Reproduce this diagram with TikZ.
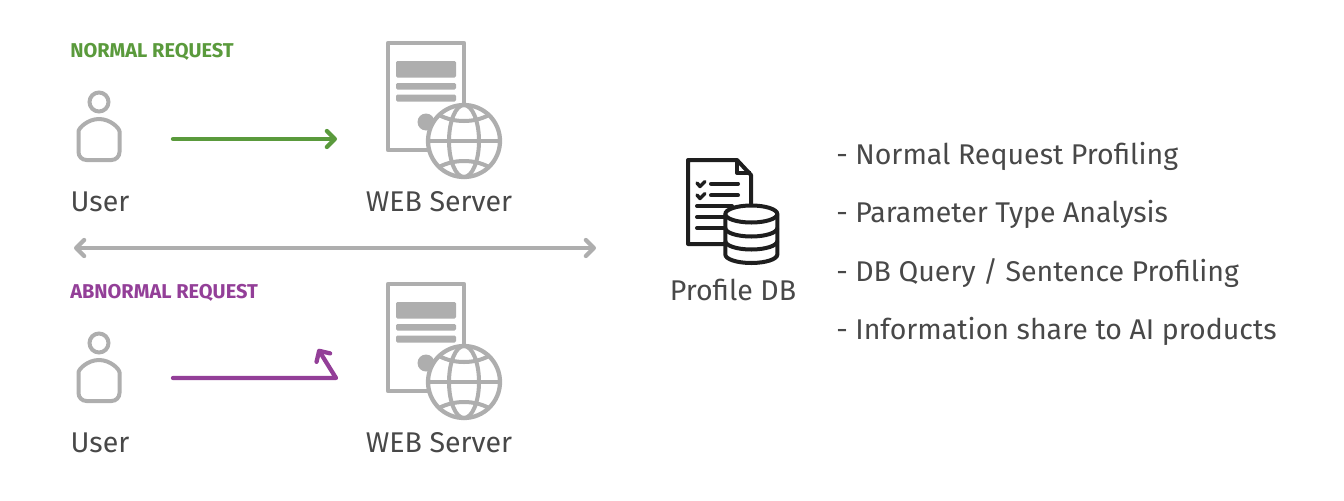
\documentclass[tikz,border=0pt]{standalone}
\usepackage{fontspec}
\setmainfont{Fira Sans}
\usetikzlibrary{positioning}
\usetikzlibrary{arrows.meta}
\pgfdeclarelayer{nodelayer}
\pgfdeclarelayer{edgelayer}
\pgfsetlayers{nodelayer,edgelayer,main}
\definecolor{icongray}{HTML}{AEAEAE}
\definecolor{textgray}{HTML}{484848}
\definecolor{okgreen}{HTML}{5A9A3C}
\definecolor{badpurple}{HTML}{933F98}
\definecolor{iconblack}{HTML}{1E1E1E}
\tikzset{
  label text/.style={text=textgray, inner sep=0pt, font=\fontsize{21.4}{26}\selectfont},
  head text/.style={inner sep=0pt, font=\fontsize{15}{18}\selectfont\bfseries},
  flow/.style={line width=3.2pt, line cap=round, line join=round, -{Straight Barb[length=6pt,width=12pt,line width=3.2pt,round]}},
  pics/usericon/.style={code={
    \draw [icongray, line width=3pt] (0,0) circle [radius=9.5];
    \draw [icongray, line width=3pt, rounded corners=6pt] (-20.5,37.5) arc [start angle=180, end angle=360, radius=20.5] -- (20.5,58) -- (-20.5,58) -- cycle;
  }},
  pics/servericon/.style={code={
    \draw [icongray, line width=3.2pt, line join=round] (2,2) rectangle (78,109);
    \fill [icongray, rounded corners=1pt] (10,20) rectangle (70,36.5);
    \fill [icongray, rounded corners=1pt] (10,42) rectangle (70,48.5);
    \fill [icongray, rounded corners=1pt] (10,53.5) rectangle (70,60.5);
    \fill [icongray] (40,81) circle [radius=8.5];
    \draw [icongray, line width=3.2pt, fill=white] (78,100) circle [radius=36];
    \draw [icongray, line width=3pt] (42,100) -- (114,100);
    \draw [icongray, line width=3pt] (78,100) ellipse [x radius=15, y radius=36];
    \draw [icongray, line width=3pt] (53,74) .. controls (68,82) and (88,82) .. (103,74);
    \draw [icongray, line width=3pt] (53,126) .. controls (68,118) and (88,118) .. (103,126);
  }},
}
\begin{document}
\begin{tikzpicture}[x=0.75pt, y=-0.75pt]
  \useasboundingbox (0,0) rectangle (1344,500);
  \begin{pgfonlayer}{nodelayer}
    \node [head text, text=okgreen, anchor=base west] (normalhead) at (70,57) {NORMAL REQUEST};
    \node [head text, text=badpurple, anchor=base west] (abnormalhead) at (70,298) {ABNORMAL REQUEST};
    \node [label text, anchor=base] (user1) at (100,211) {User};
    \node [label text, anchor=base] (web1) at (439,211) {WEB Server};
    \node [label text, anchor=base] (user2) at (100,452) {User};
    \node [label text, anchor=base] (web2) at (439,452) {WEB Server};
    \node [label text, anchor=base] (profile) at (733,300) {Profile DB};
    \node [label text, anchor=base west] (item1) at (836,164) {- Normal Request Profiling};
    \node [label text, anchor=base west] (item2) at (836,222) {- Parameter Type Analysis};
    \node [label text, anchor=base west] (item3) at (836,281) {- DB Query / Sentence Profiling};
    \node [label text, anchor=base west] (item4) at (836,339) {- Information share to AI products};
    \coordinate (req1a) at (173,139);
    \coordinate (req1b) at (337,139);
    \coordinate (req2a) at (173,378);
    \coordinate (req2b) at (336,378);
    \coordinate (req2c) at (318,349);
    \coordinate (sepa) at (74,248);
    \coordinate (sepb) at (596,248);
  \end{pgfonlayer}
  \begin{pgfonlayer}{edgelayer}
    \draw [flow, okgreen] (req1a) to (req1b);
    \draw [flow, badpurple] (req2a) -- (req2b) -- (req2c);
    \draw [flow, icongray, {Straight Barb[length=6pt,width=12pt,line width=3.2pt,round]}-{Straight Barb[length=6pt,width=12pt,line width=3.2pt,round]}] (sepa) to (sepb);
  \end{pgfonlayer}
  \pic at (99,102) {usericon};
  \pic at (99,343) {usericon};
  \pic at (386,41) {servericon};
  \pic at (386,282) {servericon};
  % profile db icon
  \draw [iconblack, line width=3pt, line join=round] (737,160) -- (688,160) -- (688,244) -- (751,244) -- (751,175) -- cycle;
  \draw [iconblack, line width=3pt, line join=round] (737,160) -- (737,173) -- (751,173);
  \draw [iconblack, line width=2.6pt, line cap=round, line join=round] (697,183) -- (700,186.5) -- (705,181.5);
  \draw [iconblack, line width=2.6pt, line cap=round, line join=round] (697,195) -- (700,198.5) -- (705,193.5);
  \foreach \y in {183.7,195.3} \draw [iconblack, line width=3pt, line cap=round] (711,\y) -- (738,\y);
  \foreach \y in {206,217,228} \draw [iconblack, line width=3pt, line cap=round] (697,\y) -- (732,\y);
  \draw [iconblack, line width=3pt, fill=white] (725.3,214) -- (725.3,254.5) arc [start angle=180, end angle=0, x radius=26, y radius=8.5] -- (777.3,214) arc [start angle=0, end angle=-180, x radius=26, y radius=8.5] -- cycle;
  \draw [iconblack, line width=3pt] (725.3,214) arc [start angle=180, end angle=0, x radius=26, y radius=8.5];
  \draw [iconblack, line width=3pt] (725.3,228) arc [start angle=180, end angle=0, x radius=26, y radius=8.5];
  \draw [iconblack, line width=3pt] (725.3,241) arc [start angle=180, end angle=0, x radius=26, y radius=8.5];
\end{tikzpicture}
\end{document}
